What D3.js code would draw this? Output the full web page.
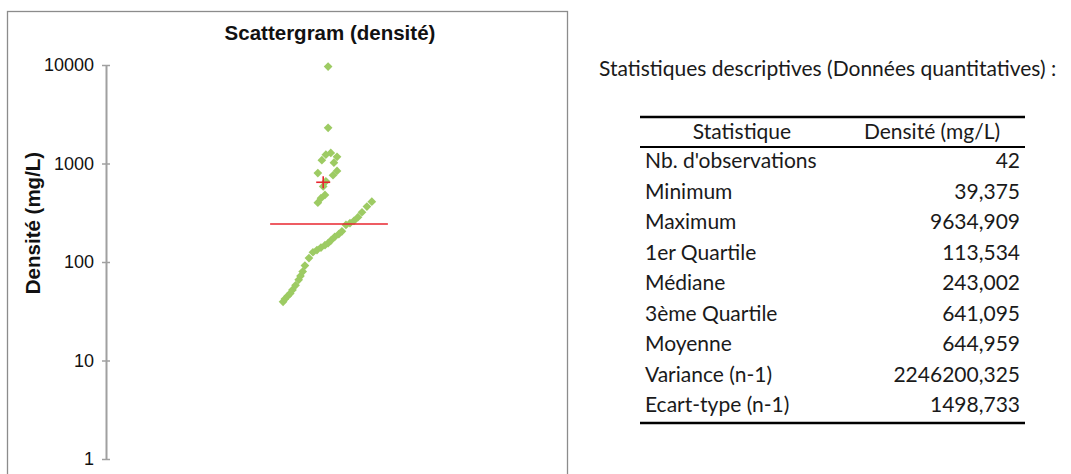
<!DOCTYPE html>
<html><head><meta charset="utf-8">
<script src="https://cdn.jsdelivr.net/npm/d3@7"></script>
<style>
html,body{margin:0;padding:0;background:#fff;}
svg{display:block;}
</style></head>
<body>
<svg id="chart" width="1071" height="474"></svg>
<script>
// ---------- DATA ----------
const densite = [39.375, 42, 45, 48, 52, 58, 66, 72, 80, 92,
  109.5, 125.6, 132, 140, 148, 155, 165, 180, 192, 205,
  238, 248, 262, 285, 320, 365, 410,
  400, 445, 480, 585, 660, 800, 760, 840,
  1020, 1080, 1170, 1230, 1280, 2300, 9634.909];
const xJitter = [0.397, 0.401, 0.407, 0.413, 0.418, 0.425, 0.432, 0.436, 0.441, 0.446,
  0.455, 0.464, 0.473, 0.482, 0.491, 0.498, 0.504, 0.513, 0.522, 0.529,
  0.538, 0.547, 0.556, 0.565, 0.574, 0.585, 0.596,
  0.475, 0.482, 0.491, 0.487, 0.493, 0.475, 0.509, 0.518,
  0.511, 0.484, 0.518, 0.493, 0.504, 0.498, 0.498];
const medianValue = 243.002;
const meanValue = 644.959;
const medianSpan = [0.368, 0.632];
const meanX = 0.487;
const yTicks = [1, 10, 100, 1000, 10000];

const chartTitle = "Scattergram (densité)";
const yLabel = "Densité (mg/L)";
const tableTitle = "Statistiques descriptives (Données quantitatives) :";
const tableHeaders = ["Statistique", "Densité (mg/L)"];
const statLabels = ["Nb. d'observations", "Minimum", "Maximum", "1er Quartile", "Médiane",
  "3ème Quartile", "Moyenne", "Variance (n-1)", "Ecart-type (n-1)"];
const statValues = ["42", "39,375", "9634,909", "113,534", "243,002",
  "641,095", "644,959", "2246200,325", "1498,733"];

// ---------- CHART ----------
const svg = d3.select("#chart");
const green = "#9dcb63", red = "#e8262f";
const af = "Liberation Sans, Arial, sans-serif";

// frame
svg.append("rect").attr("x", 7.5).attr("y", 11.5).attr("width", 560).attr("height", 480)
  .attr("fill", "none").attr("stroke", "#8c8c8c").attr("stroke-width", 1.3);

const x = d3.scaleLinear().domain([0, 1]).range([106, 552]);
const y = d3.scaleLog().domain([1, 10000]).range([459, 65]);

svg.append("text").attr("x", 330).attr("y", 40).attr("text-anchor", "middle")
  .attr("font-family", af).attr("font-weight", "bold")
  .attr("font-size", 20.5).attr("fill", "#111").text(chartTitle);

const yAxis = svg.append("g").attr("transform", "translate(106,0)")
  .call(d3.axisLeft(y).tickValues(yTicks).tickFormat(d3.format("d"))
    .tickSizeInner(4).tickSizeOuter(0).tickPadding(8));
yAxis.select(".domain").attr("stroke", "#a0a0a0").attr("stroke-width", 2);
yAxis.selectAll(".tick line").attr("x1", -4).attr("x2", 4).attr("stroke", "#a0a0a0").attr("stroke-width", 1.5);
yAxis.selectAll(".tick text").attr("font-family", af)
  .attr("font-size", 18).attr("fill", "#111");

svg.append("text").attr("transform", "translate(40,223) rotate(-90)")
  .attr("text-anchor", "middle").attr("font-family", af)
  .attr("font-weight", "bold").attr("font-size", 20.5).attr("fill", "#111").text(yLabel);

// points
const pts = densite.map((v, i) => ({v, j: xJitter[i]}));
const diamond = d3.symbol().type(d3.symbolSquare).size(38);
svg.append("g").selectAll("path").data(pts).join("path")
  .attr("d", diamond)
  .attr("transform", d => `translate(${x(d.j)},${y(d.v)}) rotate(45)`)
  .attr("fill", green);

// median line
svg.append("line").attr("x1", x(medianSpan[0])).attr("x2", x(medianSpan[1]))
  .attr("y1", y(medianValue)).attr("y2", y(medianValue))
  .attr("stroke", red).attr("stroke-width", 1.6);
// mean cross
const mx = x(meanX), my = y(meanValue);
svg.append("line").attr("x1", mx - 7).attr("x2", mx + 7).attr("y1", my).attr("y2", my)
  .attr("stroke", red).attr("stroke-width", 1.6);
svg.append("line").attr("x1", mx).attr("x2", mx).attr("y1", my - 6).attr("y2", my + 6)
  .attr("stroke", red).attr("stroke-width", 1.6);

// ---------- TABLE ----------
const tf = "Lato, 'Open Sans', sans-serif";
const tcol = "#1a1a1a";
const fs = 21;
svg.append("text").attr("x", 599).attr("y", 76).attr("font-family", tf).attr("font-size", fs)
  .attr("fill", tcol).text(tableTitle);

const tLeft = 640, tRight = 1025;
svg.append("line").attr("x1", tLeft).attr("x2", tRight).attr("y1", 117).attr("y2", 117)
  .attr("stroke", "#000").attr("stroke-width", 2.6);
svg.append("line").attr("x1", tLeft).attr("x2", tRight).attr("y1", 147).attr("y2", 147)
  .attr("stroke", "#000").attr("stroke-width", 1.8);
svg.append("line").attr("x1", tLeft).attr("x2", tRight).attr("y1", 423).attr("y2", 423)
  .attr("stroke", "#000").attr("stroke-width", 2.6);

svg.append("text").attr("x", 742).attr("y", 139).attr("text-anchor", "middle")
  .attr("font-family", tf).attr("font-size", fs).attr("fill", tcol).text(tableHeaders[0]);
svg.append("text").attr("x", 932).attr("y", 139).attr("text-anchor", "middle")
  .attr("font-family", tf).attr("font-size", fs).attr("fill", tcol).text(tableHeaders[1]);

const rowY = d3.scaleLinear().domain([0, statLabels.length - 1]).range([168, 412]);
const rows = svg.append("g").selectAll("g").data(statLabels).join("g");
rows.append("text").attr("x", 645).attr("y", (d, i) => rowY(i))
  .attr("font-family", tf).attr("font-size", fs).attr("fill", tcol).text(d => d);
rows.append("text").attr("x", 1020).attr("y", (d, i) => rowY(i)).attr("text-anchor", "end")
  .attr("font-family", tf).attr("font-size", fs).attr("fill", tcol).text((d, i) => statValues[i]);
</script>
</body></html>
